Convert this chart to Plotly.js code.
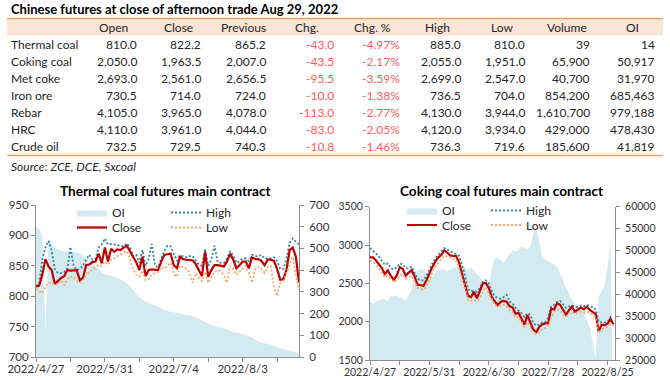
<!DOCTYPE html>
<html><head><meta charset="utf-8">
<script src="https://cdn.plot.ly/plotly-3.0.1.min.js"></script>
<style>html,body{margin:0;padding:0;background:#fff}#chart{width:670px;height:380px}</style>
</head><body><div id="chart"></div>
<script>
// ---------- Table data ----------
const tableTitle = 'Chinese futures at close of afternoon trade Aug 29, 2022';
const sourceNote = 'Source: ZCE, DCE, Sxcoal';
const headers = ['Open', 'Close', 'Previous', 'Chg.', 'Chg. %', 'High', 'Low', 'Volume', 'OI'];
const products = ['Thermal coal', 'Coking coal', 'Met coke', 'Iron ore', 'Rebar', 'HRC', 'Crude oil'];
const openP   = [810.0, 2050.0, 2693.0, 730.5, 4105.0, 4110.0, 732.5];
const closeP  = [822.2, 1963.5, 2561.0, 714.0, 3965.0, 3961.0, 729.5];
const prevP   = [865.2, 2007.0, 2656.5, 724.0, 4078.0, 4044.0, 740.3];
const chg     = [-43.0, -43.5, -95.5, -10.0, -113.0, -83.0, -10.8];
const chgPct  = [-4.97, -2.17, -3.59, -1.38, -2.77, -2.05, -1.46];
const highP   = [885.0, 2055.0, 2699.0, 736.5, 4130.0, 4120.0, 736.3];
const lowP    = [810.0, 1951.0, 2547.0, 704.0, 3944.0, 3934.0, 719.6];
const volume  = [39, 65900, 40700, 854200, 1610700, 429000, 185600];
const openInt = [14, 50917, 31970, 685463, 979188, 478430, 41819];

// ---------- Thermal coal chart ----------
const tcTitle = 'Thermal coal futures main contract';
const tcTickLabels = ['2022/4/27', '2022/5/31', '2022/7/4', '2022/8/3'];
const tcClose = [816,817,835,861,849,843,820,825,830,833,
 843,842,842,843,826,830,851,852,856,857,
 870,854,880,857,878,873,877,876,880,883,
 874,864,856,843,865,833,843,844,843,843,
 857,868,869,870,851,846,865,861,860,860,
 859,853,843,833,873,832,843,851,851,850,
 849,857,870,860,846,851,857,857,846,864,
 861,861,858,851,860,860,858,845,827,828,
 843,876,880,865,822.2];
const tcHigh = [817,820,860,880,891,875,845,838,838,840,
 845,881,850,843,845,850,860,868,860,862,
 880,885,895,885,886,885,884,884,882,887,
 880,866,868,855,876,850,862,886,850,848,
 862,875,883,882,870,858,866,866,864,866,
 866,858,852,850,878,850,860,883,856,855,
 855,862,874,866,855,857,862,862,858,868,
 866,866,868,862,862,862,864,858,845,845,
 862,888,895,890,885];
const tcLow = [812,808,805,815,822,823,818,820,826,818,
 828,832,832,826,822,826,835,840,843,848,
 852,850,857,852,860,862,866,868,872,874,
 862,845,835,832,842,826,828,836,838,840,
 848,845,850,855,838,832,850,848,845,840,
 822,838,830,825,840,822,832,840,843,840,
 835,822,850,845,835,840,845,850,838,822,
 845,848,845,838,848,850,815,800,822,825,
 838,850,865,835,810];
const tcOI = [600,590,560,110,540,525,505,495,490,487,
 486,485,484,480,475,465,455,445,432,418,
 402,388,382,378,376,372,365,358,350,340,
 325,305,290,275,262,255,248,243,238,232,
 225,215,212,210,208,205,203,200,197,192,
 188,183,178,170,160,152,147,143,140,137,
 133,128,120,115,112,110,106,100,95,90,
 80,70,66,64,62,58,52,46,40,36,
 33,30,27,20,14];

// ---------- Coking coal chart ----------
const ccTitle = 'Coking coal futures main contract';
const ccTickLabels = ['2022/4/27', '2022/5/31', '2022/6/30', '2022/7/28', '2022/8/25'];
const ccClose = [2840,2840,2800,2750,2700,2620,2670,2600,2545,2600,
 2710,2690,2600,2640,2670,2590,2480,2478,2465,2540,
 2640,2715,2785,2840,2870,2930,2900,2865,2857,2857,
 2770,2620,2480,2335,2320,2390,2305,2410,2500,2505,
 2440,2320,2260,2215,2260,2270,2260,2200,2185,2105,
 2115,2045,1960,2085,1990,1895,1865,1930,1965,1978,
 1980,2170,2160,2240,2220,2155,2090,2150,2195,2130,
 2155,2185,2160,2195,2155,2130,2100,1875,1960,1955,
 1975,2035,1963.5];
const ccHigh = [2960,2930,2890,2850,2790,2740,2760,2700,2680,2710,
 2760,2750,2700,2690,2720,2640,2560,2540,2540,2600,
 2690,2760,2830,2870,2910,2960,2940,2920,2900,2890,
 2860,2740,2600,2420,2400,2400,2390,2440,2520,2540,
 2500,2400,2330,2310,2300,2320,2350,2260,2240,2180,
 2150,2110,2060,2110,2090,1980,1950,1960,1990,1995,
 2050,2200,2220,2260,2270,2230,2180,2200,2210,2200,
 2190,2210,2200,2220,2210,2190,2160,2000,1990,1990,
 2000,2060,2055];
const ccLow = [2790,2780,2750,2700,2640,2580,2600,2560,2520,2540,
 2600,2620,2560,2580,2600,2530,2440,2430,2420,2450,
 2550,2640,2720,2770,2820,2860,2850,2830,2820,2810,
 2700,2560,2440,2280,2270,2280,2270,2300,2400,2450,
 2380,2290,2220,2200,2210,2220,2200,2150,2120,2050,
 2060,2000,1930,1990,1920,1860,1840,1860,1900,1920,
 1940,2060,2120,2160,2150,2090,2070,2090,2130,2100,
 2110,2130,2120,2130,2120,2090,2060,1850,1900,1920,
 1935,1975,1951];
const ccOI = [38300,37900,38200,38600,39000,38800,38400,39700,39500,39700,
 39300,39000,38600,39800,41000,44500,45500,45700,45600,45000,
 43800,44000,45000,45400,45700,45700,45400,45800,46000,46300,
 46300,46600,46300,45500,46200,45200,44500,44000,42800,42000,
 41800,45900,48200,48400,47700,47200,48200,49300,50100,49800,
 50100,50900,50500,50200,51000,54000,55000,51500,48900,47900,
 47500,47300,46800,46200,44800,43200,41500,40000,38800,37900,
 37300,36500,35800,34200,32400,28900,25500,39500,40500,42000,
 46000,52500,0];

// ---------- Styling / layout ----------
const W = 670, H = 380;
const px = v => v / W, py = v => 1 - v / H;
const FONT = 'Lato, "Open Sans", sans-serif';
const TXT = '#262626';
const RED_TXT = '#FF5B5B';
const ORANGE = '#F4A261';
const C_OI = '#D2EAF0', C_HIGH = '#31859C', C_LOW = '#F9A868', C_CLOSE = '#C00000';
const AXC = '#8C8C8C';

const idx = arr => arr.map((_, i) => i);

function tickSet(labels, step) {
  const vals = [], text = [];
  for (let k = 0; k < labels.length * 2; k++) {
    vals.push(k * step / 2);
    text.push(k % 2 === 0 ? labels[k / 2] : '');
  }
  return {vals, text};
}
const tcTicks = tickSet(tcTickLabels, 22);
const ccTicks = tickSet(ccTickLabels, 20);

// table geometry (pixels)
const headCenters = [113.5, 178, 243, 307, 372, 437.5, 501.5, 566.5, 632];
const colRight = [138.7, 203.3, 268.3, 336, 401.7, 462.7, 527.3, 592.3, 657.3];
const headY = 27.5, row0Y = 44.5, rowH = 17;

const f1 = v => v.toLocaleString('en-US', {minimumFractionDigits: 1, maximumFractionDigits: 1});
const f0 = v => v.toLocaleString('en-US');
const columns = [
  {v: openP, f: f1}, {v: closeP, f: f1}, {v: prevP, f: f1},
  {v: chg, f: v => v.toFixed(1), red: true}, {v: chgPct, f: v => v.toFixed(2) + '%', red: true},
  {v: highP, f: f1}, {v: lowP, f: f1}, {v: volume, f: f0}, {v: openInt, f: f0}
];

const annotations = [];
const tFont = (c) => ({family: FONT, size: 12, color: c || TXT});
headers.forEach((h, j) => annotations.push({text: h, xref: 'paper', yref: 'paper',
  x: px(headCenters[j]), y: py(headY), xanchor: 'center', yanchor: 'middle', showarrow: false, font: tFont()}));
products.forEach((p, i) => annotations.push({text: p, xref: 'paper', yref: 'paper',
  x: px(9), y: py(row0Y + i * rowH), xanchor: 'left', yanchor: 'middle', showarrow: false, font: tFont()}));
columns.forEach((col, j) => col.v.forEach((v, i) => annotations.push({text: col.f(v), xref: 'paper', yref: 'paper',
  x: px(colRight[j]), y: py(row0Y + i * rowH), xanchor: 'right', yanchor: 'middle', showarrow: false,
  font: tFont(col.red ? RED_TXT : TXT)})));

annotations.push(
  {text: '<b>' + tableTitle + '</b>', xref: 'paper', yref: 'paper', x: px(9), y: py(9),
   xanchor: 'left', yanchor: 'middle', showarrow: false, font: {family: FONT, size: 13, color: '#000'}},
  {text: '<i>' + sourceNote + '</i>', xref: 'paper', yref: 'paper', x: px(9), y: py(166),
   xanchor: 'left', yanchor: 'middle', showarrow: false, font: tFont()},
  {text: '<b>' + tcTitle + '</b>', xref: 'paper', yref: 'paper', x: px(165), y: py(191),
   xanchor: 'center', yanchor: 'middle', showarrow: false, font: {family: FONT, size: 13.6, color: '#000'}},
  {text: '<b>' + ccTitle + '</b>', xref: 'paper', yref: 'paper', x: px(501.5), y: py(191),
   xanchor: 'center', yanchor: 'middle', showarrow: false, font: {family: FONT, size: 13.6, color: '#000'}}
);

const traces = [
  // Thermal coal
  {type: 'scatter', mode: 'lines', name: 'OI', x: idx(tcOI), y: tcOI, xaxis: 'x', yaxis: 'y',
   fill: 'tozeroy', fillcolor: C_OI, line: {width: 0, color: C_OI}, legend: 'legend'},
  {type: 'scatter', mode: 'lines', name: 'High', x: idx(tcHigh), y: tcHigh, xaxis: 'x', yaxis: 'y2',
   line: {color: C_HIGH, width: 1.8, dash: '2px,2px'}, legend: 'legend'},
  {type: 'scatter', mode: 'lines', name: 'Close', x: idx(tcClose), y: tcClose, xaxis: 'x', yaxis: 'y2',
   line: {color: C_CLOSE, width: 2.2}, legend: 'legend2'},
  {type: 'scatter', mode: 'lines', name: 'Low', x: idx(tcLow), y: tcLow, xaxis: 'x', yaxis: 'y2',
   line: {color: C_LOW, width: 1.8, dash: '2px,2px'}, legend: 'legend2'},
  // Coking coal
  {type: 'scatter', mode: 'lines', name: 'OI', x: idx(ccOI), y: ccOI, xaxis: 'x2', yaxis: 'y3',
   fill: 'tozeroy', fillcolor: C_OI, line: {width: 0, color: C_OI}, legend: 'legend3'},
  {type: 'scatter', mode: 'lines', name: 'High', x: idx(ccHigh), y: ccHigh, xaxis: 'x2', yaxis: 'y4',
   line: {color: C_HIGH, width: 1.8, dash: '2px,2px'}, legend: 'legend3'},
  {type: 'scatter', mode: 'lines', name: 'Close', x: idx(ccClose), y: ccClose, xaxis: 'x2', yaxis: 'y4',
   line: {color: C_CLOSE, width: 2.2}, legend: 'legend4'},
  {type: 'scatter', mode: 'lines', name: 'Low', x: idx(ccLow), y: ccLow, xaxis: 'x2', yaxis: 'y4',
   line: {color: C_LOW, width: 1.8, dash: '2px,2px'}, legend: 'legend4'}
];

const tickFontL = {family: FONT, size: 11.5, color: '#333333'};
const tickFontR = {family: FONT, size: 10.5, color: '#333333'};
const axBase = {showgrid: false, zeroline: false, showline: true, linecolor: AXC, linewidth: 1,
  ticks: 'outside', ticklen: 4, tickcolor: AXC, fixedrange: true, tickangle: 0};
const ax = (extra) => Object.assign({}, axBase, extra);

function legendAt(x, y, ew) {
  return {x: px(x), y: py(y), xanchor: 'left', yanchor: 'top', orientation: 'h',
    bgcolor: 'rgba(0,0,0,0)', borderwidth: 0, font: {family: FONT, size: 12, color: TXT},
    entrywidth: ew, entrywidthmode: 'pixels', itemwidth: 30, tracegroupgap: 0};
}

const layout = {
  width: W, height: H, margin: {l: 0, r: 0, t: 0, b: 0},
  paper_bgcolor: '#FFFFFF', plot_bgcolor: 'rgba(0,0,0,0)',
  showlegend: true,
  font: {family: FONT, color: TXT},
  xaxis: ax({domain: [px(36), px(299)], anchor: 'y', range: [0, 84], tickfont: tickFontL,
    tickmode: 'array', tickvals: tcTicks.vals, ticktext: tcTicks.text, ticklen: 4, ticklabelstandoff: -3}),
  yaxis: ax({domain: [py(357), py(205)], anchor: 'x', side: 'right', tickfont: tickFontL,
    range: [0, 700], dtick: 100, tick0: 0, tickformat: 'd', ticklabelstandoff: 3}),
  yaxis2: ax({overlaying: 'y', anchor: 'x', side: 'left', tickfont: tickFontL,
    range: [700, 950], dtick: 50, tick0: 700, tickformat: 'd'}),
  xaxis2: ax({domain: [px(370), px(615)], anchor: 'y3', range: [0, 82.5], tickfont: tickFontR,
    tickmode: 'array', tickvals: ccTicks.vals, ticktext: ccTicks.text, ticklen: 4, ticklabelstandoff: -2}),
  yaxis3: ax({domain: [py(360), py(206.7)], anchor: 'x2', side: 'right', tickfont: tickFontR,
    range: [25000, 60000], dtick: 5000, tick0: 25000, tickformat: 'd', ticklabelstandoff: 3}),
  yaxis4: ax({overlaying: 'y3', anchor: 'x2', side: 'left', tickfont: tickFontR,
    range: [1500, 3500], dtick: 500, tick0: 1500, tickformat: 'd'}),
  legend: legendAt(72, 198, 49),
  legend2: legendAt(72, 213, 49),
  legend3: legendAt(402, 196, 39),
  legend4: legendAt(402, 210.5, 39),
  shapes: [
    {type: 'rect', xref: 'paper', yref: 'paper', x0: px(7), x1: px(663), y0: py(35.5), y1: py(19),
     fillcolor: '#FCE4D6', line: {width: 0}, layer: 'below'},
    {type: 'line', xref: 'paper', yref: 'paper', x0: px(7), x1: px(663), y0: py(18.5), y1: py(18.5),
     line: {color: ORANGE, width: 1.5}},
    {type: 'line', xref: 'paper', yref: 'paper', x0: px(7), x1: px(663), y0: py(155.5), y1: py(155.5),
     line: {color: ORANGE, width: 1.5}}
  ],
  annotations: annotations
};

Plotly.newPlot('chart', traces, layout, {displayModeBar: false, staticPlot: true});
</script>
</body></html>
